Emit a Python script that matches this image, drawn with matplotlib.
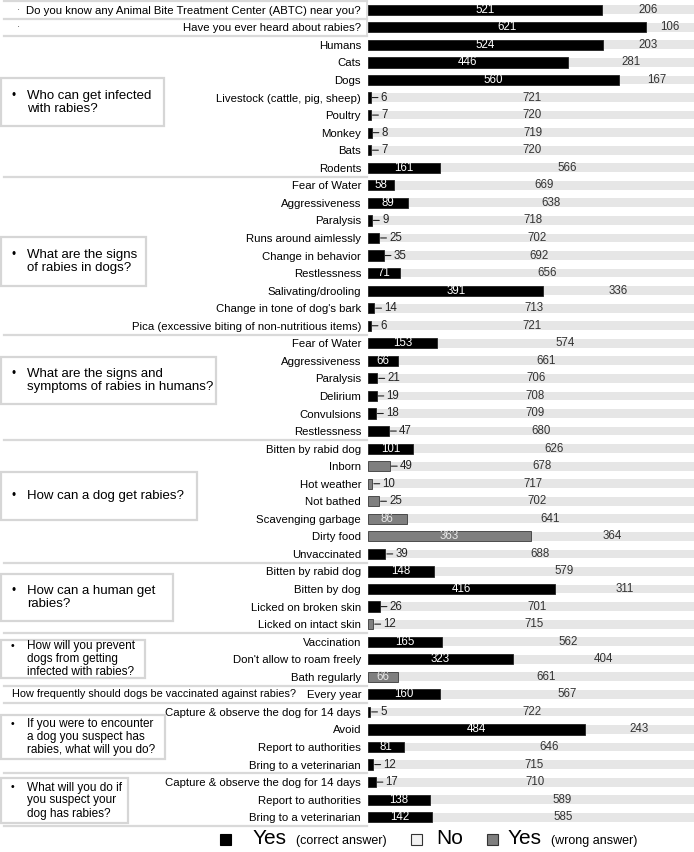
import numpy as np
import matplotlib
matplotlib.use("Agg")
import matplotlib.pyplot as plt
from matplotlib.patches import Rectangle
from matplotlib.transforms import blended_transform_factory

plt.rcParams['font.family'] = ['Liberation Sans', 'DejaVu Sans']

# Datos: respuestas "Sí" y "No" por cada opción
labels = [
    "Do you know any Animal Bite Treatment Center (ABTC) near you?",
    "Have you ever heard about rabies?",
    "Humans", "Cats", "Dogs", "Livestock (cattle, pig, sheep)", "Poultry",
    "Monkey", "Bats", "Rodents",
    "Fear of Water", "Aggressiveness", "Paralysis", "Runs around aimlessly",
    "Change in behavior", "Restlessness", "Salivating/drooling",
    "Change in tone of dog's bark", "Pica (excessive biting of non-nutritious items)",
    "Fear of Water", "Aggressiveness", "Paralysis", "Delirium", "Convulsions",
    "Restlessness",
    "Bitten by rabid dog", "Inborn", "Hot weather", "Not bathed",
    "Scavenging garbage", "Dirty food", "Unvaccinated",
    "Bitten by rabid dog", "Bitten by dog", "Licked on broken skin",
    "Licked on intact skin",
    "Vaccination", "Don't allow to roam freely", "Bath regularly",
    "Every year",
    "Capture & observe the dog for 14 days", "Avoid", "Report to authorities",
    "Bring to a veterinarian",
    "Capture & observe the dog for 14 days", "Report to authorities",
    "Bring to a veterinarian",
]
si = [521, 621, 524, 446, 560, 6, 7, 8, 7, 161,
      58, 89, 9, 25, 35, 71, 391, 14, 6,
      153, 66, 21, 19, 18, 47,
      101, 49, 10, 25, 86, 363, 39,
      148, 416, 26, 12,
      165, 323, 66,
      160,
      5, 484, 81, 12,
      17, 138, 142]
no = [206, 106, 203, 281, 167, 721, 720, 719, 720, 566,
      669, 638, 718, 702, 692, 656, 336, 713, 721,
      574, 661, 706, 708, 709, 680,
      626, 678, 717, 702, 641, 364, 688,
      579, 311, 701, 715,
      562, 404, 661,
      567,
      722, 243, 646, 715,
      710, 589, 585]
# 1 = respuesta incorrecta (barra gris)
incorrecta = [0, 0, 0, 0, 0, 0, 0, 0, 0, 0,
              0, 0, 0, 0, 0, 0, 0, 0, 0,
              0, 0, 0, 0, 0, 0,
              0, 1, 1, 1, 1, 1, 0,
              0, 0, 0, 1,
              0, 0, 1,
              0,
              0, 0, 0, 0,
              0, 0, 0]

W, H = 694, 852
fx = lambda px: px / W
fy = lambda py: 1 - py / H

fig = plt.figure(figsize=(W / 100, H / 100), dpi=100)
ax = fig.add_axes([fx(368), fy(826), fx(694) - fx(368), (826 - 1) / H])

n = len(labels)
y = np.arange(n)
si = np.array(si)
no = np.array(no)
total = si + no

ax.barh(y, total, height=0.5, color="#e6e6e6", zorder=1)
colores = ["#7f7f7f" if w else "black" for w in incorrecta]
bordes = ["#3a3a3a" if w else "#222222" for w in incorrecta]
ax.barh(y, si, height=0.58, color=colores, edgecolor=bordes, linewidth=0.6, zorder=2)

fs_val = 8.3
for i in range(n):
    if si[i] >= 55:
        ax.text(si[i] / 2, y[i], str(si[i]), ha="center", va="center",
                color="white" if not incorrecta[i] else "#e8e8e8", fontsize=fs_val, zorder=3)
    else:
        ax.annotate(str(si[i]), xy=(si[i], y[i]), xytext=(10, 0), textcoords="offset pixels",
                    ha="left", va="center", fontsize=fs_val, color="#222222",
                    arrowprops=dict(arrowstyle="-", color="#222222", lw=0.8, shrinkA=0, shrinkB=1))
    ax.text(si[i] + no[i] / 2, y[i], str(no[i]), ha="center", va="center",
            color="#333333", fontsize=fs_val, zorder=3)

ax.set_xlim(0, 727)
ax.set_ylim(n - 0.5, -0.5)
ax.set_yticks(y)
ax.set_yticklabels(labels, fontsize=8.2)
ax.tick_params(axis="y", length=0, pad=5)
ax.set_xticks([])
for s in ax.spines.values():
    s.set_visible(False)

# Líneas separadoras entre grupos de preguntas
trans = blended_transform_factory(fig.transFigure, ax.transData)
limites = [-1, 0, 1, 9, 18, 24, 31, 35, 38, 39, 43, 46]
for b in limites:
    fig.add_artist(plt.Line2D([fx(4), fx(367)], [b + 0.5, b + 0.5], transform=trans,
                              color="#d9d9d9", lw=1.6, clip_on=False))
fig.add_artist(plt.Line2D([fx(367), fx(367)], [-0.5, 1.5], transform=trans,
                          color="#d9d9d9", lw=1.2, clip_on=False))

fig.text(fx(17), fy(10), "·", fontsize=7, va="center", color="#444444")
fig.text(fx(17), fy(27), "·", fontsize=7, va="center", color="#444444")
fig.text(fx(12), fy(10 + 39 * 17.55), "How frequently should dogs be vaccinated against rabies?",
         fontsize=7.8, va="center", ha="left")

# Cajas con las preguntas
cajas = [
    (163, 78, 126, "Who can get infected\nwith rabies?", 9.5),
    (145, 237, 286, "What are the signs\nof rabies in dogs?", 9.5),
    (215, 357, 404, "What are the signs and\nsymptoms of rabies in humans?", 9.5),
    (196, 472, 520, "How can a dog get rabies?", 9.5),
    (172, 574, 621, "How can a human get\nrabies?", 9.5),
    (144, 640, 678, "How will you prevent\ndogs from getting\ninfected with rabies?", 8.5),
    (164, 715, 759, "If you were to encounter\na dog you suspect has\nrabies, what will you do?", 8.5),
    (128, 778, 823, "What will you do if\nyou suspect your\ndog has rabies?", 8.5),
]
for x1, y0, y1, txt, fs in cajas:
    fig.add_artist(Rectangle((fx(0.5), fy(y1)), fx(x1), (y1 - y0) / H, transform=fig.transFigure,
                             facecolor="white", edgecolor="#d6d6d6", lw=1.6))
    lineas = txt.split("\n")
    nl = len(lineas)
    lh = 13
    yc = (y0 + y1) / 2
    for k, linea in enumerate(lineas):
        yl = yc + (k - (nl - 1) / 2) * lh
        fig.text(fx(27), fy(yl), linea, fontsize=fs, va="center", ha="left")
    fig.text(fx(11), fy(yc - (nl - 1) * lh / 2), "•", fontsize=fs - 1, va="center", ha="left")

# Leyenda
ly = 839
fig.add_artist(Rectangle((fx(220), fy(ly + 6)), fx(11), 11 / H, transform=fig.transFigure,
                         facecolor="black", edgecolor="black", lw=0.8))
fig.text(fx(253), fy(ly), "Yes", fontsize=15, va="center")
fig.text(fx(296), fy(ly + 2), "(correct answer)", fontsize=9, va="center")
fig.add_artist(Rectangle((fx(411), fy(ly + 6)), fx(11), 11 / H, transform=fig.transFigure,
                         facecolor="#f2f2f2", edgecolor="#333333", lw=0.8))
fig.text(fx(436), fy(ly), "No", fontsize=15, va="center")
fig.add_artist(Rectangle((fx(487), fy(ly + 6)), fx(11), 11 / H, transform=fig.transFigure,
                         facecolor="#7f7f7f", edgecolor="#333333", lw=0.8))
fig.text(fx(508), fy(ly), "Yes", fontsize=15, va="center")
fig.text(fx(551), fy(ly + 2), "(wrong answer)", fontsize=9, va="center")

fig.savefig("out.png", dpi=100)
